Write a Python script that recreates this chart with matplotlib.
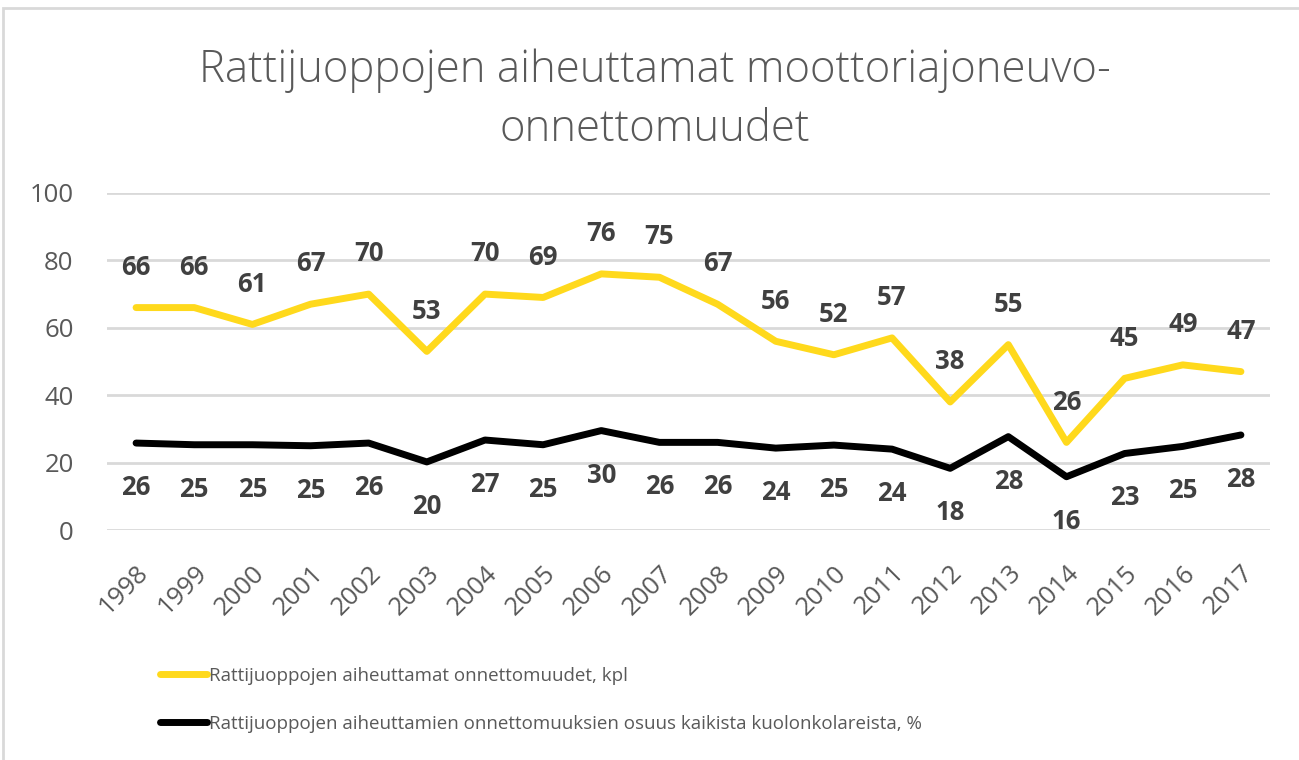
import matplotlib.pyplot as plt
from matplotlib.patches import Rectangle

# dati
vuodet = [str(v) for v in range(1998, 2018)]
onnettomuudet = [66, 66, 61, 67, 70, 53, 70, 69, 76, 75, 67, 56, 52, 57, 38, 55, 26, 45, 49, 47]
osuus = [25.8, 25.3, 25.3, 25.0, 25.8, 20.2, 26.7, 25.3, 29.5, 26.0,
         26.0, 24.3, 25.2, 24.0, 18.3, 27.7, 15.8, 22.7, 24.8, 28.2]

nimi_1 = "Rattijuoppojen aiheuttamat onnettomuudet, kpl"
nimi_2 = "Rattijuoppojen aiheuttamien onnettomuuksien osuus kaikista kuolonkolareista, %"
otsikko = "Rattijuoppojen aiheuttamat moottoriajoneuvo-\nonnettomuudet"

keltainen = "#FFD91C"
harmaa = "#595959"
plt.rcParams['font.family'] = ['Open Sans', 'DejaVu Sans']

fig = plt.figure(figsize=(12.99, 7.6), dpi=100)
ax = fig.add_axes([107/1299, 1 - 530/760, (1270 - 107)/1299, (530 - 193)/760])

x = list(range(len(vuodet)))
ax.plot(x, onnettomuudet, color=keltainen, lw=5, solid_capstyle='round', label=nimi_1)
ax.plot(x, osuus, color="black", lw=5, solid_capstyle='round', label=nimi_2)

# etichette dei valori
for i in x:
    ax.annotate(str(onnettomuudet[i]), (i, onnettomuudet[i]), xytext=(0, 29), textcoords='offset points',
                ha='center', va='center', fontsize=18.5, fontweight='bold', color="#404040")
    ax.annotate(str(round(osuus[i])), (i, osuus[i]), xytext=(0, -32), textcoords='offset points',
                ha='center', va='center', fontsize=18.5, fontweight='bold', color="#404040")

ax.set_xlim(-0.5, len(vuodet) - 0.5)
ax.set_ylim(0, 100)
ax.set_yticks(range(0, 101, 20))
ax.set_xticks(x)
ax.set_xticklabels(vuodet, rotation=45, ha='right', rotation_mode='anchor')
ax.tick_params(axis='both', length=0, labelsize=18.5, labelcolor=harmaa)
ax.tick_params(axis='y', pad=24)
ax.tick_params(axis='x', pad=22)
ax.grid(axis='y', color="#D9D9D9", lw=2)
ax.set_axisbelow(True)
for s in ax.spines.values():
    s.set_visible(False)

fig.text(655/1299, 1 - 100/760, otsikko, ha='center', va='center', fontsize=31.5,
         color=harmaa, fontweight='light', linespacing=1.42)

fig.legend(loc='upper left', bbox_to_anchor=(143/1299, 1 - 650/760), frameon=False,
           fontsize=13.5, labelcolor=harmaa, handlelength=2.5, handletextpad=0.1, labelspacing=1.6)

# bordo del grafico
fig.add_artist(Rectangle((3/1299, -0.01), 1.02, 1 - 8/760 + 0.01, transform=fig.transFigure,
                         fill=False, edgecolor="#D9D9D9", lw=2))

fig.savefig("out.png", dpi=100, facecolor="white")
